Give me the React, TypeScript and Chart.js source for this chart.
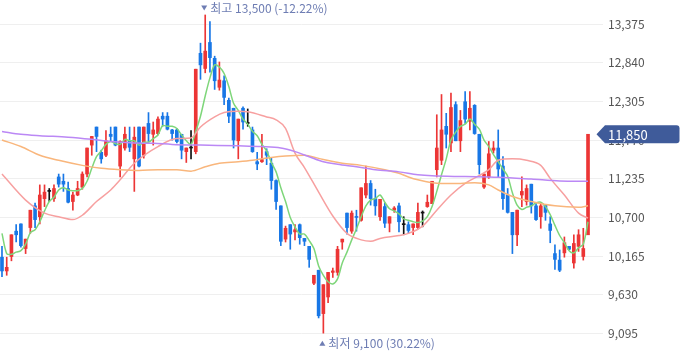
import React, { useEffect, useRef } from 'react';
import { Chart, registerables } from 'chart.js';

Chart.register(...registerables);

// Daily OHLC (KRW)
const opens = [
  10150, 9960, 10160, 10510, 10610, 10270, 10560, 10860, 10710, 10960,
  11060, 10960, 11260, 11200, 11100, 10920, 11010, 11120, 11300, 11700,
  11950, 11600, 11560, 11850, 11950, 11410, 11660, 11760, 11510, 11950,
  11560, 12000, 11850, 11860, 12100, 12100, 11910, 11910, 11850, 11610,
  11660, 11610, 12970, 12760, 13120, 12900, 12500, 12590, 12320, 12210,
  11760, 12210, 12000, 11910, 11470, 11470, 11610, 11450, 11210, 10860,
  10400, 10600, 10500, 10600, 10410, 10300, 9790, 9970, 9370, 9600,
  9940, 9940, 10360, 10760, 10510, 10710, 10660, 11010, 11170, 10960,
  10710, 10850, 10620, 10800, 10860, 10600, 10600, 10560, 10560, 10760,
  10850, 10890, 11360, 11490, 11960, 11730, 12260, 11760, 12300, 12030,
  12250, 11850, 11120, 11260, 11630, 11660, 11410, 11010, 10770, 10460,
  11010, 10920, 11160, 10860, 10710, 10880, 10610, 10200, 10110, 10210,
  10300, 10070, 10300, 10160, 10460,
];
const highs = [
  10300, 10150, 10460, 10600, 10610, 10400, 10800, 10900, 11150, 11150,
  11100, 11150, 11300, 11300, 11190, 11050, 11200, 11330, 11660, 11820,
  11950, 11630, 11900, 11950, 11950, 11760, 11950, 11950, 11950, 11950,
  11950, 12150, 12020, 12090, 12150, 12150, 11920, 11930, 11850, 11660,
  11900, 12750, 13110, 13500, 13410, 12930, 12850, 12660, 12350, 12210,
  12060, 12230, 12200, 11950, 11600, 11850, 11650, 11520, 11220, 10860,
  10580, 10600, 10600, 10610, 10410, 10300, 9900, 9970, 9770, 9940,
  10000, 10300, 10400, 10760, 10790, 10800, 11110, 11410, 11210, 11090,
  10950, 10900, 10710, 10850, 10900, 10710, 10640, 10610, 10900, 10790,
  11010, 11200, 12120, 12400, 12140, 12420, 12300, 12180, 12440, 12440,
  12260, 11850, 11300, 11750, 11750, 11910, 11540, 11100, 10770, 10800,
  11260, 11150, 11160, 10900, 10900, 10880, 10710, 10320, 10250, 10430,
  10300, 10460, 10530, 10550, 11850,
];
const lows = [
  9880, 9900, 10100, 10360, 10290, 10200, 10480, 10560, 10610, 10850,
  10920, 10920, 11120, 11060, 10900, 10800, 11000, 11090, 11260, 11560,
  11610, 11450, 11540, 11750, 11690, 11260, 11630, 11610, 11060, 11400,
  11520, 11750, 11700, 11840, 11960, 11910, 11770, 11730, 11510, 11460,
  11510, 11580, 12610, 12700, 12710, 12470, 12460, 12260, 12010, 11660,
  11510, 11920, 11960, 11600, 11360, 11460, 11430, 11090, 10810, 10310,
  10360, 10260, 10390, 10330, 10310, 10010, 9770, 9310, 9100, 9520,
  9870, 9900, 10260, 10470, 10480, 10510, 10650, 10970, 10870, 10730,
  10660, 10560, 10500, 10770, 10500, 10460, 10480, 10460, 10540, 10570,
  10840, 10890, 11260, 11430, 11660, 11610, 11760, 11610, 12000, 11910,
  11850, 11300, 11100, 11240, 11590, 11260, 10810, 10760, 10200, 10310,
  10850, 10870, 10760, 10660, 10550, 10660, 10350, 9980, 9950, 10150,
  10250, 10000, 10230, 10110, 10460,
];
const closes = [
  9960, 10010, 10460, 10460, 10310, 10400, 10800, 10670, 11010, 11050,
  11060, 11100, 11160, 11160, 10910, 11010, 11100, 11300, 11660, 11820,
  11820, 11510, 11760, 11820, 11700, 11750, 11850, 11670, 11810, 11410,
  11950, 11860, 11910, 12060, 12060, 11920, 11860, 11750, 11630, 11660,
  11660, 12750, 12810, 13000, 12910, 12590, 12600, 12360, 12100, 11770,
  12060, 12020, 12000, 11610, 11440, 11500, 11560, 11210, 10920, 10370,
  10550, 10470, 10530, 10420, 10370, 10120, 9900, 9340, 9770, 9940,
  9960, 10260, 10400, 10560, 10760, 10700, 11110, 11170, 10960, 10860,
  10950, 10620, 10710, 10830, 10640, 10600, 10520, 10610, 10770, 10760,
  10910, 11200, 11660, 11910, 11850, 12220, 11760, 12040, 12060, 12210,
  11860, 11430, 11300, 11580, 11660, 11370, 10960, 10770, 10460, 10800,
  11060, 11100, 10860, 10670, 10860, 10770, 10520, 10120, 9970, 10350,
  10260, 10340, 10460, 10270, 11850,
];

// Moving averages
const ma5 = [
  10480, 10200, 10190, 10220, 10240, 10330, 10490, 10530, 10640, 10790,
  10920, 10980, 11080, 11110, 11080, 11070, 11070, 11100, 11200, 11380,
  11540, 11620, 11710, 11750, 11720, 11710, 11780, 11760, 11760, 11700,
  11740, 11740, 11790, 11840, 11970, 11960, 11960, 11930, 11840, 11760,
  11710, 11890, 12100, 12380, 12630, 12810, 12780, 12690, 12510, 12280,
  12180, 12060, 11990, 11890, 11830, 11710, 11620, 11460, 11330, 11110,
  10920, 10700, 10570, 10470, 10470, 10380, 10270, 10030, 9900, 9810,
  9780, 9850, 10070, 10220, 10390, 10540, 10710, 10860, 10940, 10960,
  11010, 10910, 10820, 10790, 10750, 10680, 10660, 10640, 10630, 10650,
  10710, 10850, 11060, 11290, 11510, 11770, 11880, 11960, 11990, 12060,
  11990, 11920, 11770, 11680, 11570, 11470, 11370, 11270, 11040, 10870,
  10810, 10840, 10860, 10900, 10910, 10850, 10740, 10590, 10450, 10350,
  10240, 10210, 10280, 10330, 10640,
];
const ma20Days = [0, 5, 9, 12, 15, 17, 20, 23, 25, 28, 33, 37, 40, 42, 45, 47, 50, 52, 56, 58, 60, 62, 64, 67, 70, 73, 76, 78, 80, 84, 86, 89, 92, 95, 98, 103, 105, 108, 111, 114, 116, 119, 122, 124];
const ma20 = [11300, 10940, 10760, 10710, 10670, 10730, 10920, 11080, 11220, 11450, 11680, 11790, 11800, 11950, 12090, 12150, 12170, 12160, 12090, 12050, 11930, 11590, 11390, 11050, 10720, 10480, 10390, 10370, 10410, 10450, 10480, 10580, 10800, 11010, 11170, 11360, 11490, 11510, 11490, 11420, 11240, 11010, 10760, 10690];
const ma60Days = [0, 4, 8, 12, 17, 21, 25, 29, 33, 37, 40, 43, 46, 50, 53, 57, 60, 64, 65, 68, 72, 76, 81, 84, 86, 88, 91, 93, 97, 100, 103, 105, 108, 112, 117, 122, 124];
const ma60 = [11770, 11680, 11560, 11490, 11420, 11380, 11360, 11350, 11360, 11360, 11340, 11400, 11450, 11470, 11490, 11530, 11550, 11560, 11550, 11500, 11450, 11420, 11360, 11310, 11260, 11220, 11180, 11170, 11170, 11180, 11150, 11080, 10990, 10920, 10860, 10840, 10860];
const ma120Days = [0, 4, 8, 14, 19, 23, 28, 32, 36, 42, 50, 55, 59, 62, 65, 68, 71, 75, 79, 84, 88, 91, 98, 105, 112, 118, 124];
const ma120 = [11890, 11850, 11830, 11810, 11780, 11750, 11730, 11725, 11710, 11700, 11690, 11680, 11660, 11610, 11540, 11470, 11435, 11400, 11360, 11330, 11290, 11275, 11265, 11255, 11230, 11205, 11200];

const yTicks = [9095, 9630, 10165, 10700, 11235, 11770, 12305, 12840, 13375];

const UP = '#ec3535';
const DOWN = '#1877e6';
const FLAT = '#111111';
const FONT = '"Noto Sans CJK KR", "Noto Sans", sans-serif';

const candleColor = (i: number) =>
  closes[i] > opens[i] ? UP : closes[i] < opens[i] ? DOWN : FLAT;

const fmt = (v: number) => v.toLocaleString('en-US');

const overlayPlugin = {
  id: 'overlay',
  afterDraw(chart: any) {
    const { ctx, chartArea } = chart;
    const xs = chart.scales.x;
    const ys = chart.scales.y;
    const last = closes[closes.length - 1];
    let hi = 0;
    let lo = 0;
    highs.forEach((v, i) => { if (v > highs[hi]) hi = i; });
    lows.forEach((v, i) => { if (v < lows[lo]) lo = i; });
    const pct = (v: number) => ((last - v) / v * 100).toFixed(2) + '%';

    ctx.save();
    ctx.fillStyle = '#6e7db3';
    ctx.textBaseline = 'middle';
    ctx.textAlign = 'left';
    ctx.font = '12px ' + FONT;

    // highest
    const hx = xs.getPixelForValue(hi);
    const hy = ys.getPixelForValue(highs[hi]) - 7;
    ctx.beginPath();
    ctx.moveTo(hx - 4, hy - 2.5);
    ctx.lineTo(hx + 2, hy - 2.5);
    ctx.lineTo(hx - 1, hy + 2.5);
    ctx.closePath();
    ctx.fill();
    ctx.fillText(`최고 ${fmt(highs[hi])} (${pct(highs[hi])})`, hx + 5, hy);

    // lowest
    const lx = xs.getPixelForValue(lo);
    const ly = ys.getPixelForValue(lows[lo]) + 10;
    ctx.beginPath();
    ctx.moveTo(lx - 4, ly + 2.5);
    ctx.lineTo(lx + 2, ly + 2.5);
    ctx.lineTo(lx - 1, ly - 2.5);
    ctx.closePath();
    ctx.fill();
    ctx.fillText(`최저 ${fmt(lows[lo])} (${pct(lows[lo])})`, lx + 5, ly);

    // current price tag
    const ty = ys.getPixelForValue(last);
    const left = chartArea.right + 2;
    const right = 679.5;
    const h = 9;
    const r = 3;
    ctx.fillStyle = '#3f5b9a';
    ctx.beginPath();
    ctx.moveTo(left - 8.5, ty);
    ctx.lineTo(left, ty - h);
    ctx.lineTo(right - r, ty - h);
    ctx.quadraticCurveTo(right, ty - h, right, ty - h + r);
    ctx.lineTo(right, ty + h - r);
    ctx.quadraticCurveTo(right, ty + h, right - r, ty + h);
    ctx.lineTo(left, ty + h);
    ctx.closePath();
    ctx.fill();
    ctx.fillStyle = '#ffffff';
    ctx.font = '13px ' + FONT;
    ctx.fillText(fmt(last), left + 3, ty + 0.5);
    ctx.restore();
  },
};

export default function App() {
  const ref = useRef<HTMLCanvasElement | null>(null);

  useEffect(() => {
    document.body.style.margin = '0';
    const canvas = ref.current;
    if (!canvas) return;
    const idx = closes.map((_, i) => i);
    const line = (data: any[], color: string, tension: number, mono: boolean) => ({
      type: 'line' as const,
      data,
      borderColor: color,
      borderWidth: 1.5,
      pointRadius: 0,
      tension,
      cubicInterpolationMode: mono ? 'monotone' : 'default',
      fill: false,
      order: 0,
    });
    const chart = new Chart(canvas, {
      type: 'bar',
      data: {
        datasets: [
          line(ma120Days.map((d, k) => ({ x: d, y: ma120[k] })), '#bb88f5', 0.4, true),
          line(ma60Days.map((d, k) => ({ x: d, y: ma60[k] })), '#f9b67c', 0.4, true),
          line(ma20Days.map((d, k) => ({ x: d, y: ma20[k] })), '#f7a0a0', 0.4, true),
          line(ma5.map((v, i) => ({ x: i, y: v })), '#7ed67a', 0.3, false),
          {
            type: 'bar',
            data: idx.map((i) => ({ x: i, y: [lows[i], highs[i]] })),
            backgroundColor: (c: any) => candleColor(c.dataIndex),
            barThickness: 1,
            grouped: false,
            order: 2,
          },
          {
            type: 'bar',
            data: idx.map((i) => ({ x: i, y: [opens[i], closes[i]] })),
            backgroundColor: (c: any) => candleColor(c.dataIndex),
            barThickness: 3,
            minBarLength: 1,
            grouped: false,
            order: 1,
          },
        ] as any,
      },
      options: {
        responsive: false,
        animation: false,
        devicePixelRatio: 1,
        events: [],
        layout: { padding: 0 },
        plugins: { legend: { display: false }, tooltip: { enabled: false } },
        scales: {
          x: {
            type: 'linear',
            display: false,
            min: -0.42,
            max: 127.17,
            offset: false,
          },
          y: {
            position: 'right',
            min: 8756,
            max: 13707,
            afterBuildTicks: (axis: any) => {
              axis.ticks = yTicks.map((v) => ({ value: v }));
            },
            afterFit: (axis: any) => {
              axis.width = 77;
              axis.paddingTop = 0;
              axis.paddingBottom = 0;
            },
            grid: { color: '#efefef', drawTicks: false },
            border: { display: false },
            ticks: {
              padding: 5,
              color: '#555555',
              font: { family: FONT, size: 12 },
              callback: (v: any) => fmt(Number(v)),
            },
          },
        },
      } as any,
      plugins: [overlayPlugin],
    });
    return () => chart.destroy();
  }, []);

  return (
    <div style={{ width: 680, height: 358, background: '#fff' }}>
      <canvas ref={ref} width={680} height={358} style={{ display: 'block' }} />
    </div>
  );
}
